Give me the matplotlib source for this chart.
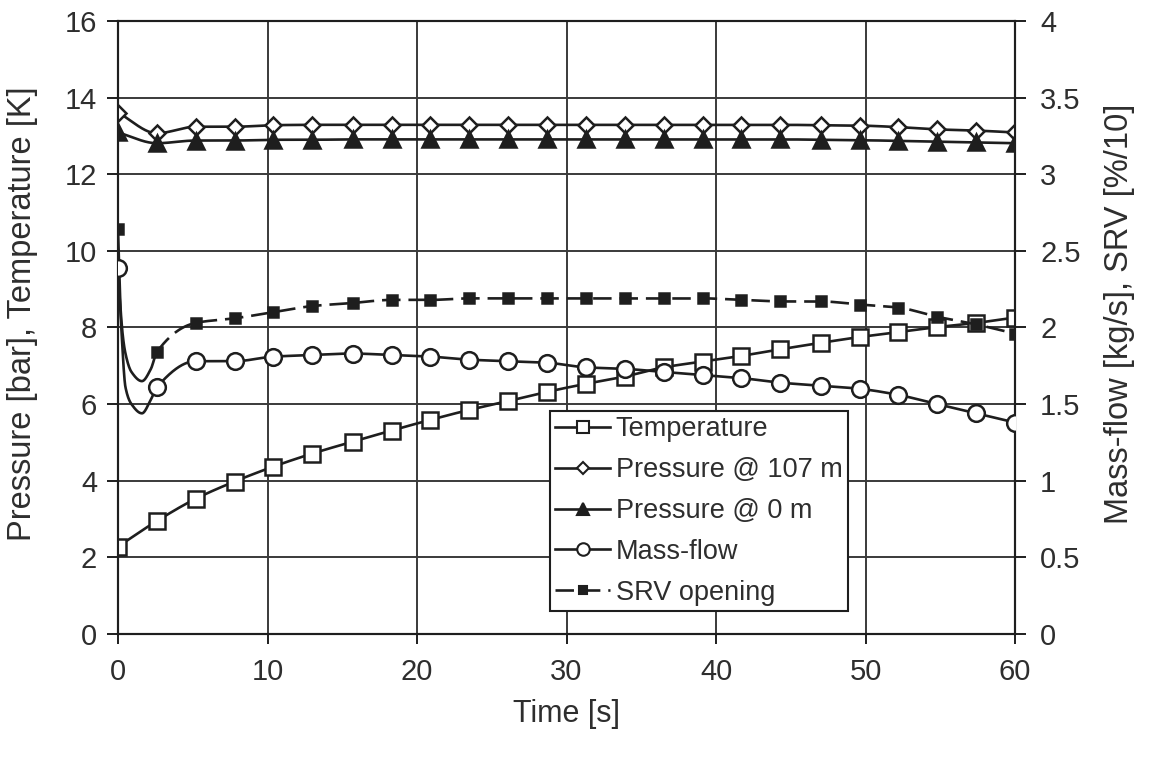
import numpy as np
import matplotlib
matplotlib.use("Agg")
import matplotlib.pyplot as plt

# ---------------- data ----------------
time_s = [0.0, 2.6, 5.2, 7.8, 10.4, 13.0, 15.7, 18.3, 20.9, 23.5, 26.1, 28.7,
          31.3, 33.9, 36.5, 39.1, 41.7, 44.3, 47.0, 49.6, 52.2, 54.8, 57.4, 60.0]

temperature = [2.28, 2.95, 3.53, 3.98, 4.37, 4.71, 5.02, 5.31, 5.59, 5.85, 6.08, 6.32,
               6.53, 6.72, 6.96, 7.11, 7.26, 7.43, 7.60, 7.75, 7.88, 8.01, 8.12, 8.26]

pressure_107 = [13.61, 13.07, 13.24, 13.24, 13.28, 13.29, 13.29, 13.29, 13.29, 13.29, 13.29, 13.29,
                13.29, 13.29, 13.29, 13.29, 13.29, 13.29, 13.28, 13.27, 13.23, 13.17, 13.14, 13.09]

pressure_0 = [13.09, 12.81, 12.88, 12.88, 12.90, 12.90, 12.91, 12.91, 12.91, 12.91, 12.91, 12.91,
              12.91, 12.91, 12.91, 12.91, 12.91, 12.91, 12.90, 12.89, 12.87, 12.85, 12.83, 12.81]

mass_flow = [2.39, 1.61, 1.78, 1.78, 1.81, 1.82, 1.83, 1.82, 1.81, 1.79, 1.78, 1.77,
             1.74, 1.73, 1.71, 1.69, 1.67, 1.64, 1.62, 1.60, 1.56, 1.50, 1.44, 1.38]

srv_opening = [2.64, 1.84, 2.03, 2.06, 2.10, 2.14, 2.16, 2.18, 2.18, 2.19, 2.19, 2.19,
               2.19, 2.19, 2.19, 2.19, 2.18, 2.17, 2.17, 2.15, 2.13, 2.07, 2.02, 1.96]

# unmarked intermediate samples describing the initial transient dip
dip_time = [0.2, 0.5, 0.9, 1.6, 2.2]
mass_flow_dip = [2.03, 1.61, 1.50, 1.44, 1.53]
srv_dip = [2.08, 1.83, 1.71, 1.65, 1.73]

left_ticks = [0, 2, 4, 6, 8, 10, 12, 14, 16]
right_ticks = [0, 0.5, 1, 1.5, 2, 2.5, 3, 3.5, 4]
right_labels = ["0", "0.5", "1", "1.5", "2", "2.5", "3", "3.5", "4"]
x_ticks = [0, 10, 20, 30, 40, 50, 60]


# ---------------- helpers ----------------
def pchip(x, y, xn):
    x = np.asarray(x, float); y = np.asarray(y, float)
    h = np.diff(x); d = np.diff(y) / h
    n = len(x); m = np.zeros(n)
    for k in range(1, n - 1):
        if d[k - 1] * d[k] <= 0:
            m[k] = 0.0
        else:
            w1 = 2 * h[k] + h[k - 1]; w2 = h[k] + 2 * h[k - 1]
            m[k] = (w1 + w2) / (w1 / d[k - 1] + w2 / d[k])
    m[0] = d[0]; m[-1] = d[-1]
    idx = np.clip(np.searchsorted(x, xn) - 1, 0, n - 2)
    t = (xn - x[idx]) / h[idx]
    h00 = 2 * t**3 - 3 * t**2 + 1; h10 = t**3 - 2 * t**2 + t
    h01 = -2 * t**3 + 3 * t**2; h11 = t**3 - t**2
    return h00 * y[idx] + h10 * h[idx] * m[idx] + h01 * y[idx + 1] + h11 * h[idx] * m[idx + 1]


def merged(tmain, vmain, textra=None, vextra=None):
    t = list(tmain); v = list(vmain)
    if textra is not None:
        t += list(textra); v += list(vextra)
    order = np.argsort(t)
    return np.asarray(t)[order], np.asarray(v)[order]


ink = "#1e1e1e"
txt = "#2e2e2e"
plt.rcParams['font.family'] = ['Liberation Sans', 'DejaVu Sans']

fig = plt.figure(figsize=(11.49, 7.58), dpi=100)
ax = fig.add_axes([0.1027, 0.1636, 0.7807, 0.8087])
ax2 = ax.twinx()

lw = 1.9
tt = np.linspace(0, 60, 3000)


def draw(axis, tm, vm, te, ve, label, marker, ms, mfc, dashes=None, solid_until=None):
    ts, vs = merged(tm, vm, te, ve)
    yy = pchip(ts, vs, tt)
    line_kw = dict(color=ink, lw=lw, zorder=3)
    if dashes is not None:
        if solid_until is not None:
            sel = tt <= solid_until
            axis.plot(tt[sel], yy[sel], ls='-', **line_kw)
            axis.plot(tt[tt >= solid_until], yy[tt >= solid_until], dashes=dashes, **line_kw)
        else:
            axis.plot(tt, yy, dashes=dashes, **line_kw)
    else:
        axis.plot(tt, yy, ls='-', **line_kw)
    axis.plot(tm, vm, ls='none', marker=marker, ms=ms, mfc=mfc, mec=ink, mew=1.8, zorder=4)
    kw = {'dashes': dashes} if dashes is not None else {}
    h, = axis.plot([], [], color=ink, lw=lw, marker=marker, ms=ms * 0.75, mfc=mfc, mec=ink,
                   mew=1.5, label=label, **kw)
    return h


h1 = draw(ax, time_s, temperature, None, None, "Temperature", 's', 12, 'white')
h2 = draw(ax, time_s, pressure_107, None, None, "Pressure @ 107 m", 'D', 8.5, 'white')
h3 = draw(ax, time_s, pressure_0, None, None, "Pressure @ 0 m", '^', 11, ink)
h4 = draw(ax2, time_s, mass_flow, dip_time, mass_flow_dip, "Mass-flow", 'o', 12, 'white')
h5 = draw(ax2, time_s, srv_opening, dip_time, srv_dip, "SRV opening", 's', 7.5, ink,
          dashes=(7, 3), solid_until=2.6)

ax.set_xlim(0, 60)
ax.set_ylim(0, 16)
ax2.set_ylim(0, 4)
ax.set_xticks(x_ticks)
ax.set_yticks(left_ticks)
ax2.set_yticks(right_ticks)
ax2.set_yticklabels(right_labels)

ax.grid(True, color="#3a3a3a", lw=1.4, zorder=0)
ax.set_axisbelow(True)
for a in (ax, ax2):
    for s in a.spines.values():
        s.set_color(ink); s.set_linewidth(1.5)
ax.spines['top'].set_color("#3a3a3a")

ax.tick_params(axis='x', direction='out', length=7, width=1.4, color=ink,
               labelsize=21, labelcolor=txt, pad=10)
ax.tick_params(axis='y', direction='out', length=8, width=1.4, color=ink,
               labelsize=21, labelcolor=txt, pad=7)
ax2.tick_params(axis='y', direction='out', length=8, width=1.4, color=ink,
                labelsize=21, labelcolor=txt, pad=10)

ax.set_xlabel("Time [s]", fontsize=22, color=txt, labelpad=10)
ax.set_ylabel("Pressure [bar], Temperature [K]", fontsize=23.5, color=txt, labelpad=19)
ax2.set_ylabel("Mass-flow [kg/s], SRV [%/10]", fontsize=23.5, color=txt, labelpad=17)
ax.yaxis.label.set_y(0.522)
ax2.yaxis.label.set_y(0.522)

leg = ax2.legend(handles=[h1, h2, h3, h4, h5], loc='upper left',
                 bbox_to_anchor=(0.4816, 0.364), borderaxespad=0, fontsize=19.5,
                 frameon=True, fancybox=False, framealpha=1, edgecolor=ink,
                 handlelength=2.0, handletextpad=0.22, labelspacing=0.55,
                 borderpad=0.2)
leg.get_frame().set_linewidth(1.5)
for t in leg.get_texts():
    t.set_color(txt)

fig.savefig("out.png", dpi=100, facecolor='white')
